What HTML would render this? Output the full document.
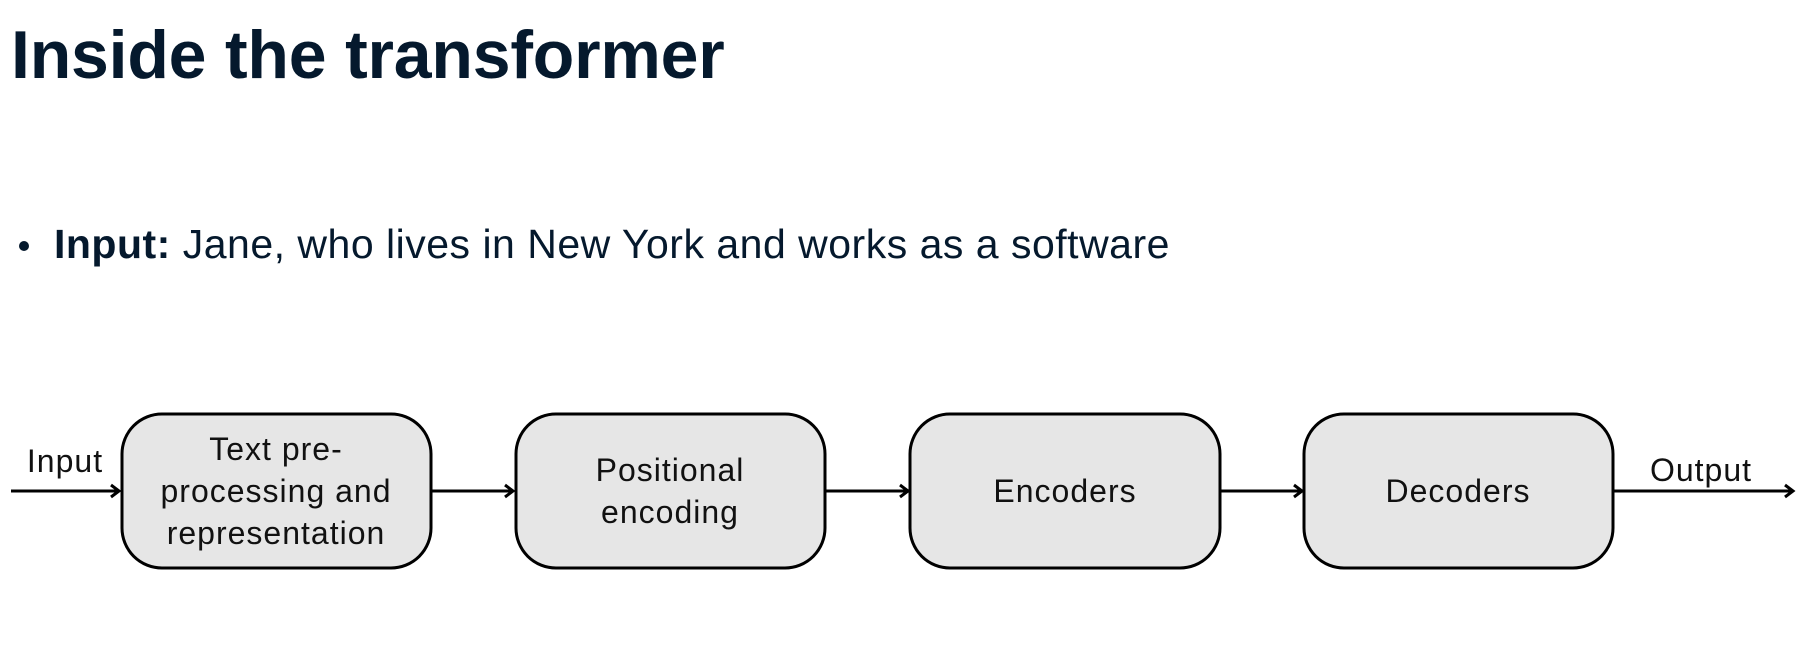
<!DOCTYPE html>
<html><head><meta charset="utf-8"><style>
html,body{margin:0;padding:0;background:#fff;width:1811px;height:654px;overflow:hidden}
svg{display:block}
</style></head><body>
<svg width="1811" height="654" viewBox="0 0 1811 654" xmlns="http://www.w3.org/2000/svg">
<text x="11" y="78" font-family="Liberation Sans, sans-serif" font-weight="bold" font-size="68" letter-spacing="-0.2" fill="#05192d">Inside the transformer</text>
<circle cx="24" cy="246" r="5" fill="#05192d"/>
<text x="54" y="258" font-family="Liberation Sans, sans-serif" font-size="41" letter-spacing="0.5" fill="#05192d"><tspan font-weight="bold">Input:</tspan> Jane, who lives in New York and works as a software</text>
<defs><marker id="a" markerWidth="16" markerHeight="16" refX="11" refY="8" orient="auto" markerUnits="userSpaceOnUse"><path d="M3,2 L11,8 L3,14" fill="none" stroke="#000" stroke-width="3"/></marker></defs>
<g stroke="#000" stroke-width="3" fill="none">
<line x1="11" y1="491" x2="119" y2="491" marker-end="url(#a)"/>
<line x1="431" y1="491" x2="513" y2="491" marker-end="url(#a)"/>
<line x1="825" y1="491" x2="908" y2="491" marker-end="url(#a)"/>
<line x1="1220" y1="491" x2="1302" y2="491" marker-end="url(#a)"/>
<line x1="1613" y1="491" x2="1793" y2="491" marker-end="url(#a)"/>
</g>
<g fill="#e6e6e6" stroke="#000" stroke-width="3">
<rect x="122" y="414" width="309" height="154" rx="40"/>
<rect x="516" y="414" width="309" height="154" rx="40"/>
<rect x="910" y="414" width="310" height="154" rx="40"/>
<rect x="1304" y="414" width="309" height="154" rx="40"/>
</g>
<g font-family="Liberation Sans, sans-serif" font-size="32" fill="#111" text-anchor="middle" letter-spacing="1">
<text x="65" y="472">Input</text>
<text x="1701" y="481">Output</text>
<text x="276" y="460">Text pre-</text>
<text x="276" y="502">processing and</text>
<text x="276" y="544">representation</text>
<text x="670" y="481">Positional</text>
<text x="670" y="523">encoding</text>
<text x="1065" y="502">Encoders</text>
<text x="1458" y="502">Decoders</text>
</g>
</svg>
</body></html>
